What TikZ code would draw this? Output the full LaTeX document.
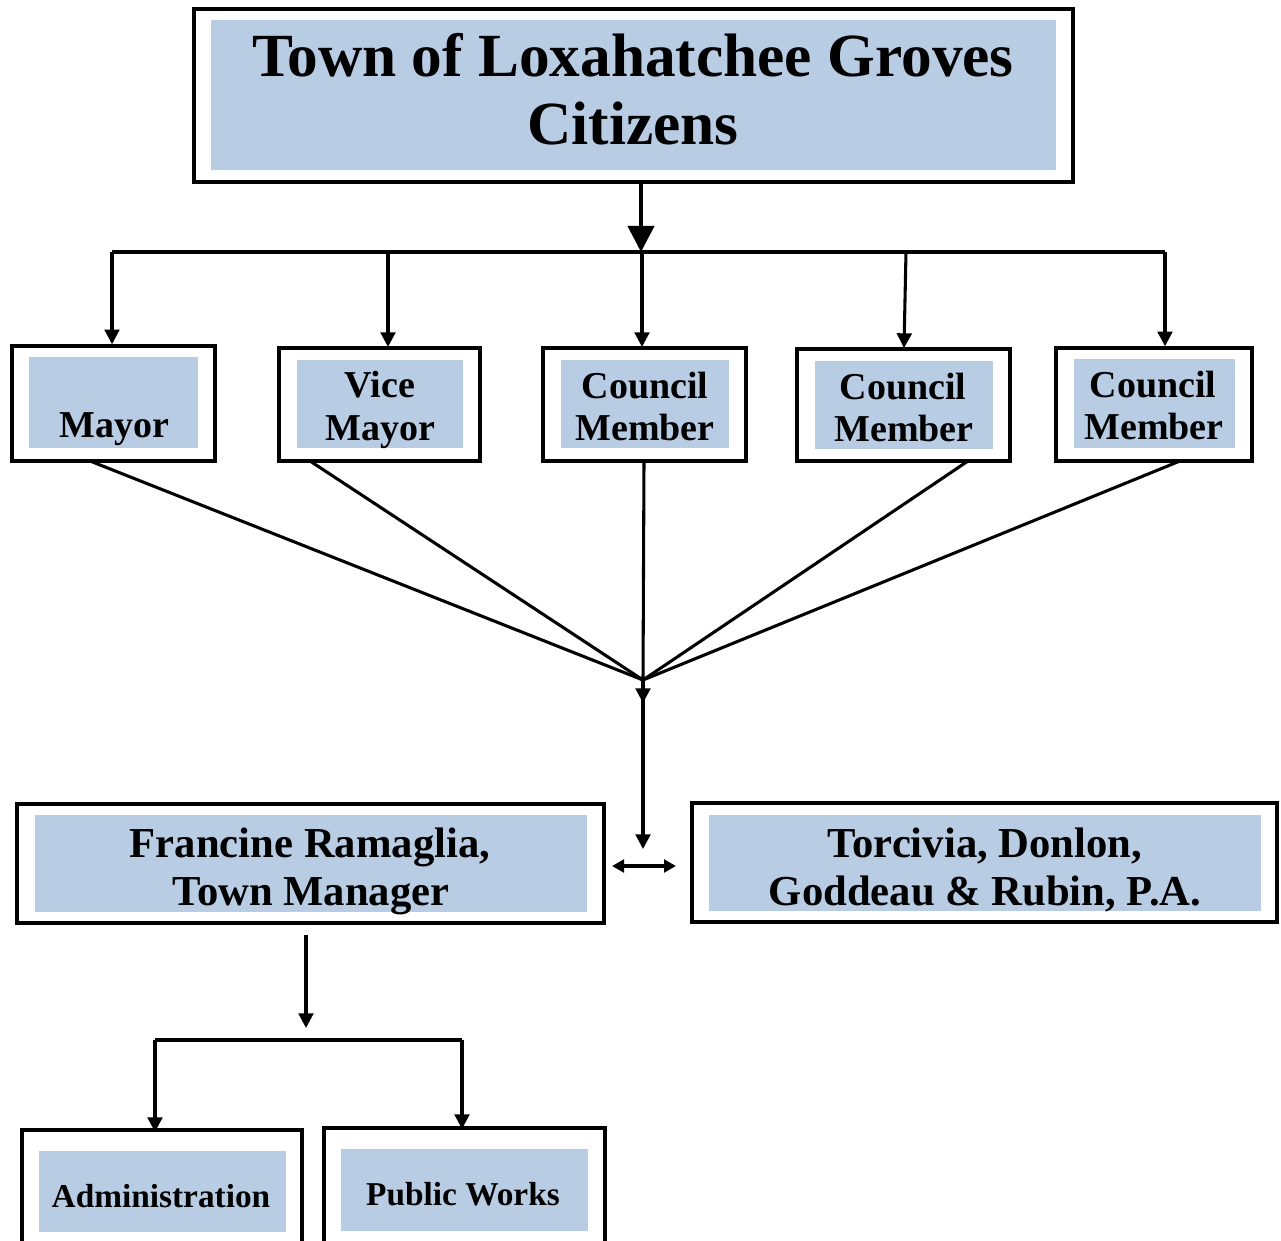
\documentclass[tikz,border=0pt]{standalone}
\usepackage{fontspec}
\setmainfont{Liberation Serif}
\usetikzlibrary{arrows.meta,fit}
\definecolor{boxblue}{HTML}{B8CCE4}
\begin{document}
\begin{tikzpicture}[x=0.75pt,y=-0.75pt,
  outerbox/.style={draw=black,line width=2.6pt,fill=white,inner sep=0pt},
  innerbox/.style={fill=boxblue,inner sep=0pt},
  txt/.style={inner sep=0pt,anchor=base,font=\bfseries},
  titletxt/.style={txt,font=\bfseries\fontsize{46}{50}\selectfont},
  midtxt/.style={txt,font=\bfseries\fontsize{28.5}{32}\selectfont},
  bigtxt/.style={txt,font=\bfseries\fontsize{32}{36}\selectfont},
  smalltxt/.style={txt,font=\bfseries\fontsize{25}{28}\selectfont},
  conn/.style={line width=2.3pt},
  arr/.style={conn,-{Triangle[width=11pt,length=11pt]}},
  bigarr/.style={line width=3pt,-{Triangle[width=19.5pt,length=19.5pt]}},
  dblarr/.style={conn,{Triangle[width=9.5pt,length=9pt]}-{Triangle[width=9.5pt,length=9pt]}}
]
\path[use as bounding box] (0,0) rectangle (1281,1241);
\clip (0,0) rectangle (1281,1241);

% top box
\node[outerbox,fit={(194,9) (1073,182)}] (top) {};
\node[innerbox,fit={(211,20) (1056,170)}] (topin) {};
\node[titletxt] (topt1) at (633,77) {Town of Loxahatchee Groves};
\node[titletxt] (topt2) at (633,145) {Citizens};

% row of officials
\node[outerbox,fit={(12,346) (215,461)}] (mayor) {};
\node[innerbox,fit={(29,357) (198,448)}] (mayorin) {};
\node[midtxt] (mayort) at (114,437) {Mayor};

\node[outerbox,fit={(279,348) (480,461)}] (vice) {};
\node[innerbox,fit={(297,360) (463,448)}] (vicein) {};
\node[midtxt] (vicet1) at (380,397) {Vice};
\node[midtxt] (vicet2) at (380,440) {Mayor};

\node[outerbox,fit={(543,348) (746,461)}] (cm1) {};
\node[innerbox,fit={(561,360) (729,448)}] (cm1in) {};
\node[midtxt] (cm1t1) at (645,398) {Council};
\node[midtxt] (cm1t2) at (645,440) {Member};

\node[outerbox,fit={(797,349) (1010,461)}] (cm2) {};
\node[innerbox,fit={(815,361) (993,449)}] (cm2in) {};
\node[midtxt] (cm2t1) at (903,399) {Council};
\node[midtxt] (cm2t2) at (904,441) {Member};

\node[outerbox,fit={(1056,348) (1252,461)}] (cm3) {};
\node[innerbox,fit={(1074,359) (1235,448)}] (cm3in) {};
\node[midtxt] (cm3t1) at (1153,397) {Council};
\node[midtxt] (cm3t2) at (1154,439) {Member};

% manager and attorneys
\node[outerbox,fit={(17,804) (604,923)}] (mgr) {};
\node[innerbox,fit={(35,815) (587,912)}] (mgrin) {};
\node[bigtxt] (mgrt1) at (310,857) {Francine Ramaglia,};
\node[bigtxt] (mgrt2) at (311,905) {Town Manager};

\node[outerbox,fit={(692,803) (1277,922)}] (law) {};
\node[innerbox,fit={(709,815) (1261,911)}] (lawin) {};
\node[bigtxt] (lawt1) at (985,857) {Torcivia, Donlon,};
\node[bigtxt] (lawt2) at (985,905) {Goddeau \& Rubin, P.A.};

% departments
\node[outerbox,fit={(22,1130) (302,1260)}] (adm) {};
\node[innerbox,fit={(39,1151) (286,1232)}] (admin) {};
\node[smalltxt] (admt) at (161,1207) {Administration};

\node[outerbox,fit={(324,1128) (605,1260)}] (pw) {};
\node[innerbox,fit={(341,1149) (588,1231)}] (pwin) {};
\node[smalltxt] (pwt) at (463,1205) {Public Works};

% connectors: citizens to officials
\coordinate (split) at (641,252);
\coordinate (barL) at (112,252);
\coordinate (barR) at (1165,252);
\draw[bigarr] (top.south -| split) -- (split);
\draw[conn] (barL) -- (barR);
\draw[arr] (barL) -- (barL |- mayor.north);
\draw[arr] (388,252) -- (388,347);
\draw[arr] (642,252) -- (642,347);
\draw[arr] (906,252) -- (904,348);
\draw[arr] (barR) -- (barR |- cm3.north);

% officials converge
\coordinate (hub) at (643,680);
\draw[conn] (90,461) -- (hub);
\draw[conn] (310,461) -- (hub);
\draw[conn] (644,461) -- (hub);
\draw[conn] (968,461) -- (hub);
\draw[conn] (1180,461) -- (hub);
\draw[arr] (hub) -- (643,703);
\draw[arr] (hub) -- (643,849);
\coordinate (dl) at (612,866);
\coordinate (dr) at (676,866);
\draw[dblarr] (dl) -- (dr);

% manager to departments
\coordinate (mgrout) at (306,935);
\coordinate (mgrend) at (306,1028);
\draw[arr] (mgrout) -- (mgrend);
\coordinate (bl) at (155,1040);
\coordinate (br) at (462,1040);
\draw[conn] (bl) -- (br);
\draw[arr] (bl) -- (155,1132);
\draw[arr] (br) -- (462,1129);
\end{tikzpicture}
\end{document}
